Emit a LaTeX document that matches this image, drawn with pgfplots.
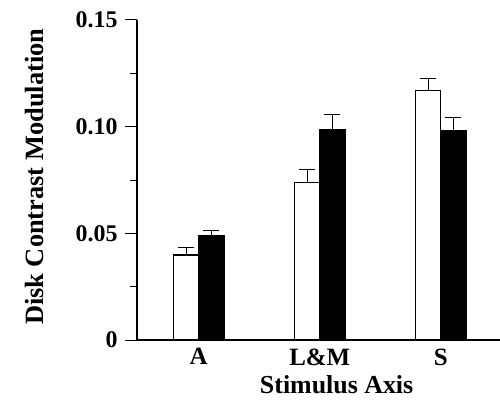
\documentclass[border=0pt]{standalone}
\usepackage{fontspec}
\setmainfont{Liberation Serif}
\usepackage{pgfplots}
\pgfplotsset{compat=1.18}

% bar heights and upper error
\pgfplotstableread{
x   y       e
0   0.0398  0.0035
1   0.0737  0.0063
2   0.1170  0.0057
}\openbars
\pgfplotstableread{
x   y       e
0   0.0489  0.0022
1   0.0984  0.0074
2   0.0980  0.0062
}\filledbars

\begin{document}
\begin{tikzpicture}
\begin{axis}[
    scale only axis,
    width=363bp, height=320bp,
    xmin=-0.51, xmax=2.49,
    ymin=0, ymax=0.15,
    axis lines=left,
    axis line style={-, line width=1.4pt},
    ybar, bar width=0.21,
    xtick={0,1,2},
    xticklabels={A,L\&M,S},
    x tick style={draw=none},
    ytick={0,0.05,0.1,0.15},
    yticklabels={\raisebox{-4bp}{0},0.05,0.10,0.15},
    minor ytick={0.025,0.075,0.125},
    tick align=outside,
    major tick length=12bp,
    minor tick length=7bp,
    y tick style={black, line width=1pt},
    yticklabel style={font=\bfseries\fontsize{24}{24}\selectfont, xshift=-4bp},
    xticklabel style={font=\bfseries\fontsize{25}{25}\selectfont, yshift=7bp},
    xlabel={Stimulus Axis},
    ylabel={Disk Contrast Modulation},
    x label style={at={(axis description cs:0.55,-0.14)}, anchor=center,
        font=\bfseries\fontsize{26}{26}\selectfont},
    y label style={at={(axis description cs:-0.281,0.51)}, anchor=center,
        font=\bfseries\fontsize{26.5}{26.5}\selectfont},
    clip=false,
]
\addplot[bar shift=-0.105, draw=black, fill=white, line width=1.2pt,
    error bars/.cd, y dir=plus, y explicit,
    error bar style={black, line width=1pt},
    error mark options={black, rotate=90, mark size=8bp, line width=1pt}]
    table[x=x, y=y, y error=e] {\openbars};
\addplot[bar shift=0.105, draw=black, fill=black, line width=1.2pt,
    error bars/.cd, y dir=plus, y explicit,
    error bar style={black, line width=1pt},
    error mark options={black, rotate=90, mark size=8bp, line width=1pt}]
    table[x=x, y=y, y error=e] {\filledbars};
\end{axis}
\pgfresetboundingbox
\path ([shift={(-137bp,-67bp)}]current axis.south west) rectangle ([shift={(0bp,20bp)}]current axis.north east);
\end{tikzpicture}
\end{document}
